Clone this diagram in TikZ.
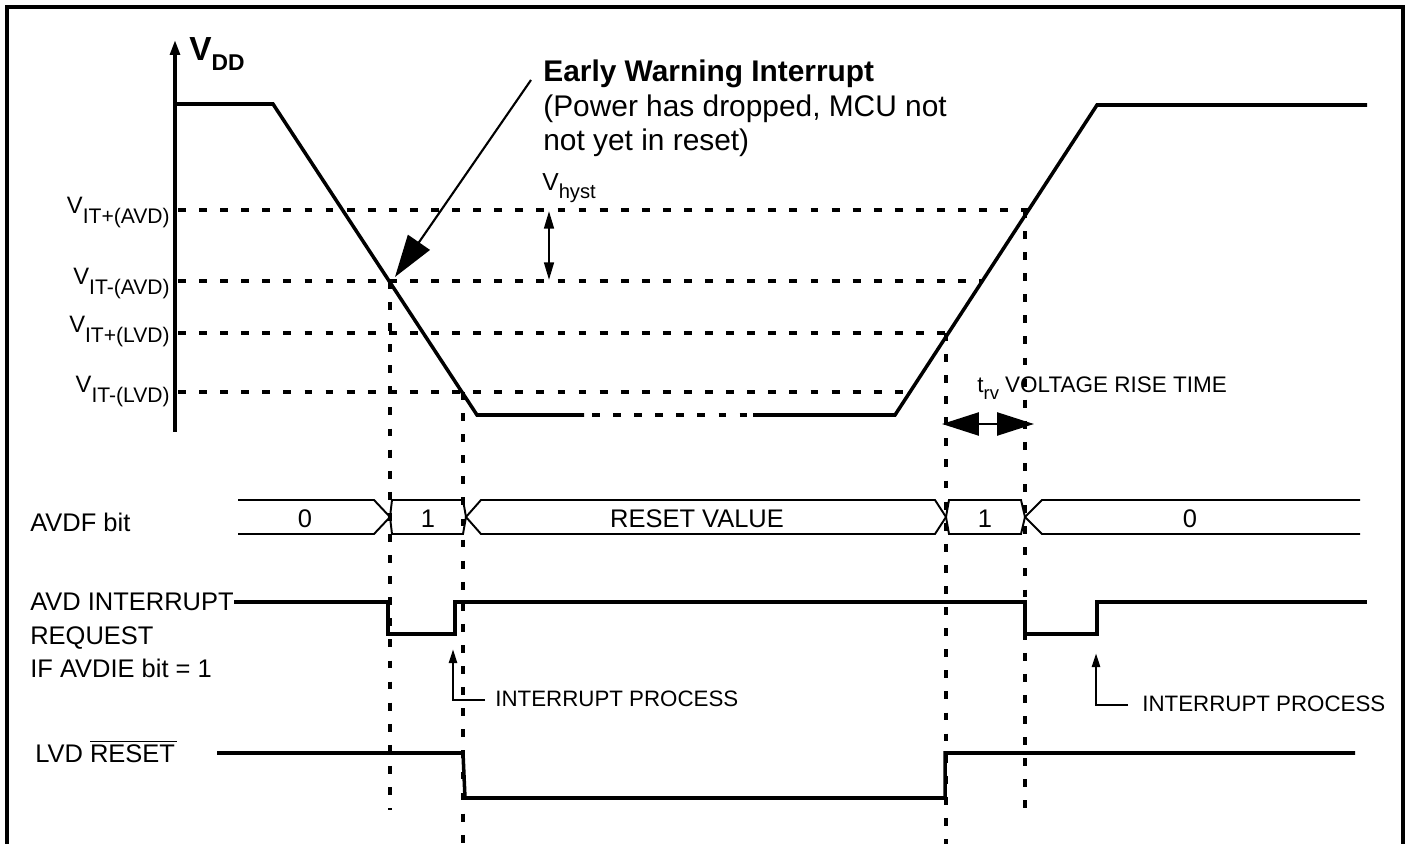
\documentclass[tikz,border=0pt]{standalone}
\usepackage{fontspec}
\setmainfont{Liberation Sans}
\usetikzlibrary{arrows.meta}
\newcommand\fsz[1]{\fontsize{#1}{#1}\selectfont}
\newcommand\vlab[1]{{\fsz{13.5}V}\raisebox{-5.5pt}{\fsz{12}#1}}
\begin{document}
\begin{tikzpicture}[x=0.02cm,y=-0.02cm,
  frame/.style={line width=2pt},
  wave/.style={line width=2pt, line join=miter},
  bus/.style={line width=1.1pt},
  dsh/.style={line width=1.9pt, dash pattern=on 4.5pt off 7.5pt},
  lbl/.style={inner sep=0pt, font=\fsz{14.5}},
  small/.style={inner sep=0pt, font=\fsz{12.7}},
  vit/.style={inner sep=0pt, anchor=base east},
  big/.style={inner sep=0pt, anchor=base west, font=\fsz{17}},
  ip/.style={line width=1.6pt, -{Triangle[length=8pt,width=4.5pt]}}
]
\useasboundingbox (0,0) rectangle (1407,844);
% frame
\draw[frame] (7,844) -- (7,7) -- (1403,7) -- (1403,844);
% axis
\draw[line width=2pt, -{Triangle[length=8.5pt,width=5.5pt]}] (175,432) -- (175,40);
\node[inner sep=0pt, anchor=base west] (vdd) at (189,61) {\fsz{19}\bfseries V\raisebox{-5.5pt}{\fsz{13}\bfseries DD}};
% threshold labels
\node[vit] (l1) at (170,214) {\vlab{IT+(AVD)}};
\node[vit] (l2) at (170,285) {\vlab{IT-(AVD)}};
\node[vit] (l3) at (170,333) {\vlab{IT+(LVD)}};
\node[vit] (l4) at (170,393) {\vlab{IT-(LVD)}};
% dashed horizontals
\draw[dsh] (178,210) -- (1030,210);
\draw[dsh] (178,281) -- (982,281);
\draw[dsh] (178,333) -- (948,333);
\draw[dsh] (178,392) -- (910,392);
% dashed verticals
\draw[dsh] (390,281) -- (390,810);
\draw[dsh] (463,392) -- (463,844);
\draw[dsh] (946,333) -- (946,844);
\draw[dsh] (1025,210) -- (1025,810);
% VDD waveform
\draw[wave] (175,104) -- (273,104) -- (477,415) -- (584,415);
\draw[dsh] (592,415) -- (753,415);
\draw[wave] (753,415) -- (895,415) -- (1097,105) -- (1367,105);
% early warning
\node[big, font=\fsz{17}\bfseries] (ew) at (543,82) {Early Warning Interrupt};
\node[big] (ew2) at (543,117) {(Power has dropped, MCU not};
\node[big] (ew3) at (543,151) {not yet in reset)};
\coordinate (ewtip) at (395,277);
\coordinate (ewstart) at (531,80);
\draw[line width=1.2pt, -{Triangle[length=24pt,width=15pt]}] (ewstart) -- (ewtip);
% hysteresis
\node[inner sep=0pt, anchor=base west] (vh) at (542,191) {{\fsz{14}V}\raisebox{-4.5pt}{\fsz{11.5}hyst}};
\coordinate (h1) at (549,211);
\coordinate (h2) at (549,280);
\draw[line width=1.4pt, {Triangle[length=10pt,width=5.5pt]}-{Triangle[length=10pt,width=5.5pt]}] (h1) -- (h2);
% rise time
\node[inner sep=0pt, anchor=base west, font=\fsz{12.8}] (trv) at (977,393) {t\raisebox{-3.5pt}{\fsz{10.5}rv} VOLTAGE RISE TIME};
\coordinate (r1) at (942,424);
\coordinate (r2) at (1034,424);
\draw[line width=1.6pt, {Triangle[length=21pt,width=13pt]}-{Triangle[length=21pt,width=13pt]}] (r1) -- (r2);
% AVDF bit
\node[lbl, anchor=west] (avdf) at (30,522) {AVDF bit};
\draw[bus] (238,500) -- (374,500) -- (390,517) -- (374,534) -- (238,534);
\draw[bus] (392,500) -- (463,500) -- (466,517) -- (463,534) -- (392,534) -- (390,517) -- cycle;
\draw[bus] (481,500) -- (935,500) -- (946,517) -- (935,534) -- (481,534) -- (466,517) -- cycle;
\draw[bus] (949,500) -- (1021,500) -- (1025,517) -- (1021,534) -- (949,534) -- (946,517) -- cycle;
\draw[bus] (1360,500) -- (1042,500) -- (1025,517) -- (1042,534) -- (1360,534);
\node[lbl] (b0) at (305,519) {0};
\node[lbl] (b1) at (428,519) {1};
\node[lbl] (br) at (697,519) {RESET VALUE};
\node[lbl] (b2) at (985,519) {1};
\node[lbl] (b3) at (1190,519) {0};
% AVD interrupt request
\node[lbl, anchor=base west] (ai1) at (30,610) {AVD INTERRUPT};
\node[lbl, anchor=base west] (ai2) at (30,644) {REQUEST};
\node[lbl, anchor=base west] (ai3) at (30,677) {IF AVDIE bit = 1};
\draw[wave] (ai1.east |- 0,602) -- (388,602) -- (388,634) -- (455,634) -- (455,602) -- (1025,602) -- (1025,634) -- (1097,634) -- (1097,602) -- (1367,602);
% interrupt process
\node[small, anchor=base west] (ip1) at (495,706) {INTERRUPT PROCESS};
\node[small, anchor=base west] (ip2) at (1142,711) {INTERRUPT PROCESS};
\coordinate (ip1c) at (485,700);
\coordinate (ip1t) at (453,649);
\draw[ip] (ip1c) -- (ip1t |- ip1c) -- (ip1t);
\coordinate (ip2c) at (1128,705);
\coordinate (ip2t) at (1096,653);
\draw[ip] (ip2c) -- (ip2t |- ip2c) -- (ip2t);
% LVD reset
\node[lbl, anchor=base west] (lvd) at (35,762) {LVD $\overline{\mbox{RESET\kern1pt}}$};
\draw[wave] (217,753) -- (463,753) -- (465,798) -- (945,798) -- (945,753) -- (1355,753);
\end{tikzpicture}
\end{document}
